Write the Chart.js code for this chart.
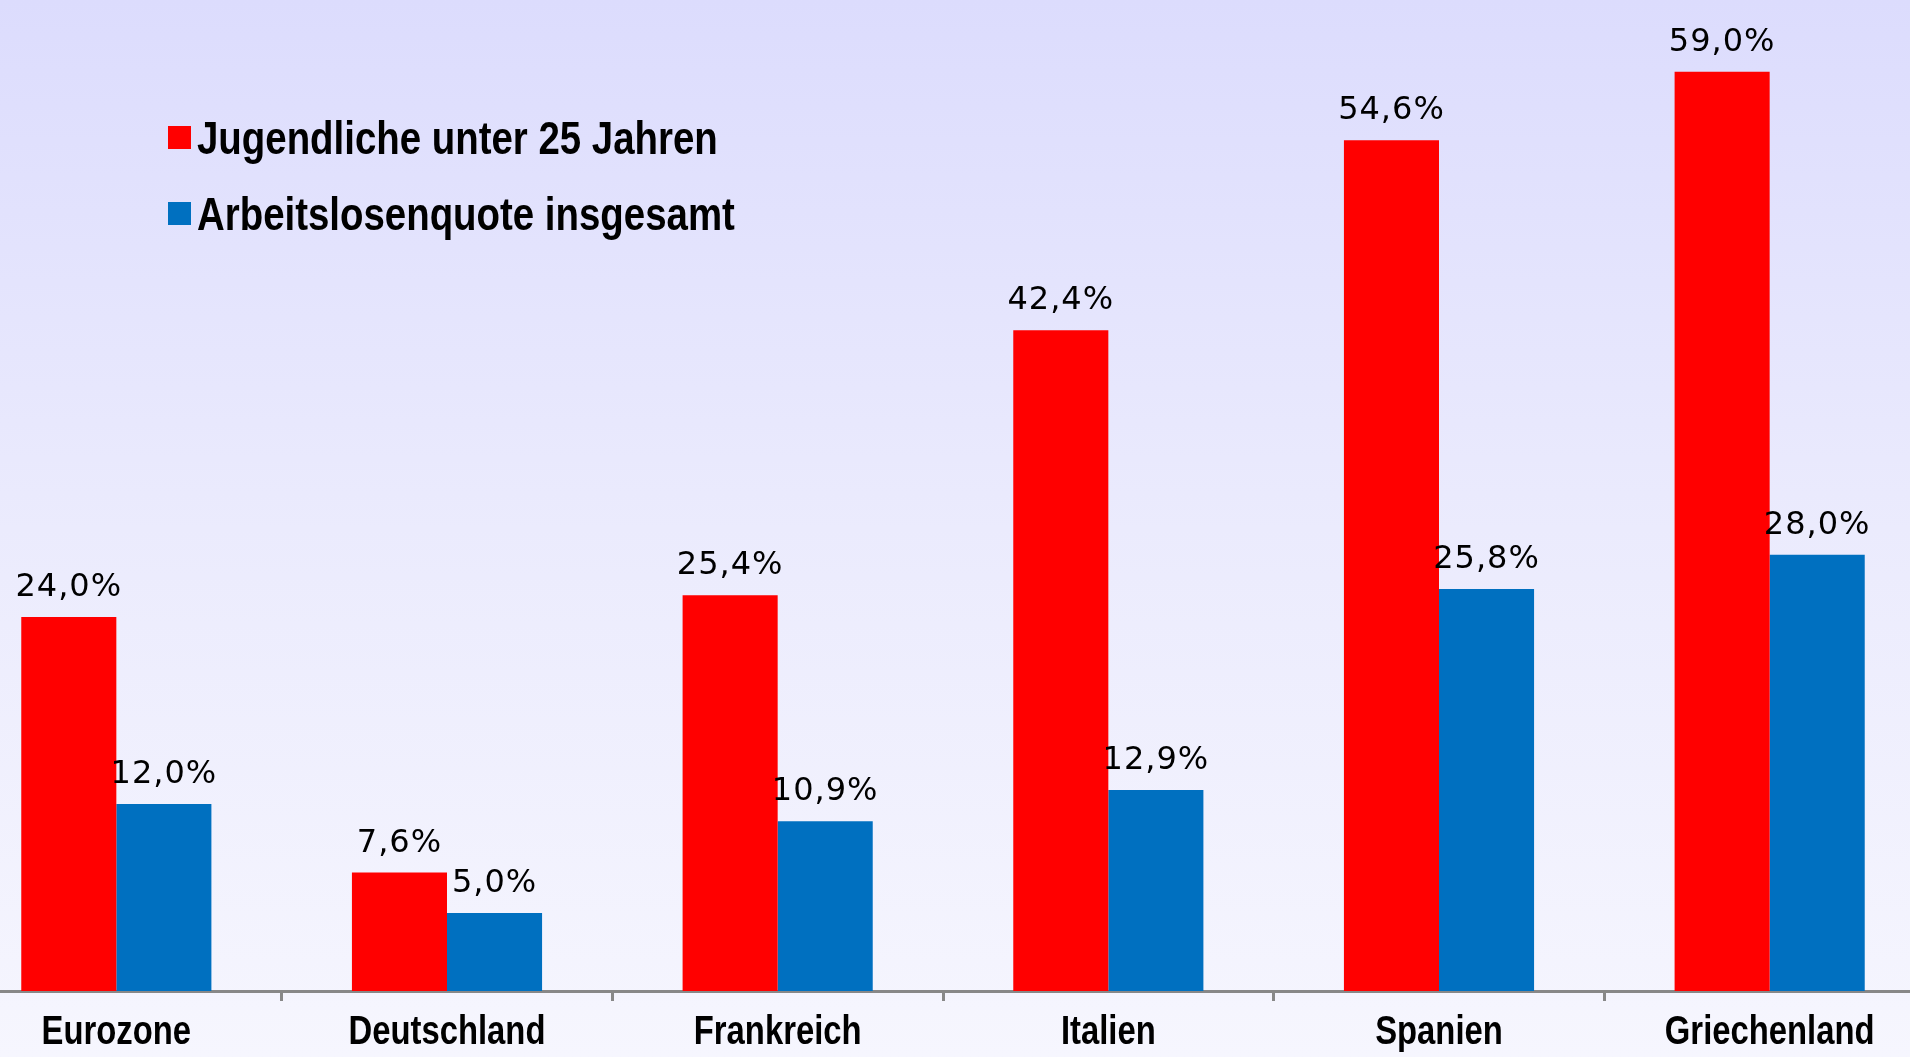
<!DOCTYPE html>
<html>
<head>
<meta charset="utf-8">
<script src="https://cdn.jsdelivr.net/npm/chart.js@4.4.1/dist/chart.umd.min.js"></script>
<style>
  html, body { margin: 0; padding: 0; width: 1910px; height: 1057px; overflow: hidden; }
  body { background: linear-gradient(to bottom, #dcdcfd 0%, #ebebfd 50%, #f6f6fe 100%); position: relative; }
  #wrap { position: absolute; left: -49px; top: 0; width: 1984px; height: 1057px; }
  .legend { position: absolute; left: 168px; height: 46px; white-space: nowrap; }
  .legend .box { position: absolute; left: 0; top: 11px; width: 23px; height: 23px; }
  .legend .txt { position: absolute; left: 29px; top: 0; font-family: "Liberation Sans", Arial, sans-serif; font-weight: bold; font-size: 46px; line-height: 46px; color: #000; transform: scaleX(0.835); transform-origin: left center; }
</style>
</head>
<body>
<div id="wrap"><canvas id="chart1"></canvas></div>
<div class="legend" style="top:115px"><span class="box" style="background:#ff0000"></span><span class="txt" id="leg1"></span></div>
<div class="legend" style="top:191px"><span class="box" style="background:#0070c0"></span><span class="txt" id="leg2"></span></div>
<script>
//Categories and values
var countries = ['Eurozone', 'Deutschland', 'Frankreich', 'Italien', 'Spanien', 'Griechenland'];
var youthRate = [24.0, 7.6, 25.4, 42.4, 54.6, 59.0];
var totalRate = [12.0, 5.0, 10.9, 12.9, 25.8, 28.0];
var seriesNames = ['Jugendliche unter 25 Jahren', 'Arbeitslosenquote insgesamt'];

document.getElementById('leg1').textContent = seriesNames[0];
document.getElementById('leg2').textContent = seriesNames[1];

//Plugin for writing the value above each bar and the narrow category names
var valueLabels = {
    id: 'valueLabels',
    afterDatasetsDraw: function(chart) {
        var ctx = chart.ctx;
        ctx.save();
        ctx.font = '32px "DejaVu Sans"';
        ctx.letterSpacing = '1px';
        ctx.fillStyle = '#000';
        ctx.textAlign = 'center';
        ctx.textBaseline = 'alphabetic';
        chart.data.datasets.forEach(function(ds, d) {
            var meta = chart.getDatasetMeta(d);
            meta.data.forEach(function(bar, i) {
                var txt = ds.data[i].toFixed(1).replace('.', ',') + '%';
                ctx.fillText(txt, bar.x, bar.y - 21);
            });
        });
        ctx.restore();
    },
    afterDraw: function(chart) {
        var ctx = chart.ctx;
        var xScale = chart.scales.x;
        ctx.save();
        ctx.font = 'bold 40px "Liberation Sans"';
        ctx.fillStyle = '#000';
        ctx.textAlign = 'center';
        ctx.textBaseline = 'middle';
        for (i = 0; i < chart.data.labels.length; i++) {
            ctx.save();
            ctx.translate(xScale.getPixelForValue(i), 1033);
            ctx.scale(0.82, 1);
            ctx.fillText(chart.data.labels[i], 0, 0);
            ctx.restore();
        }
        ctx.restore();
    }
};

const CHART1 = document.getElementById("chart1");
let rateChart = new Chart(CHART1, {
    type: 'bar',
    data: {
        labels: countries,
        datasets: [
            {
                label: seriesNames[0],
                backgroundColor: '#ff0000',
                borderWidth: 0,
                data: youthRate
            },
            {
                label: seriesNames[1],
                backgroundColor: '#0070c0',
                borderWidth: 0,
                data: totalRate
            }
        ]
    },
    options: {
        responsive: true,
        maintainAspectRatio: false,
        animation: false,
        layout: { padding: 0 },
        plugins: {
            legend: { display: false },
            tooltip: { enabled: false }
        },
        datasets: {
            bar: { categoryPercentage: 0.575, barPercentage: 1.0 }
        },
        scales: {
            x: {
                grid: {
                    display: true,
                    drawOnChartArea: false,
                    drawTicks: true,
                    tickLength: 10,
                    tickWidth: 3,
                    tickColor: '#888888',
                    offset: true
                },
                border: { display: true, color: '#888888', width: 3 },
                ticks: { display: false },
                afterFit: function(scale) { scale.height = 66; }
            },
            y: {
                display: false,
                min: 0,
                max: 63.6
            }
        }
    },
    plugins: [valueLabels]
});
</script>
</body>
</html>
